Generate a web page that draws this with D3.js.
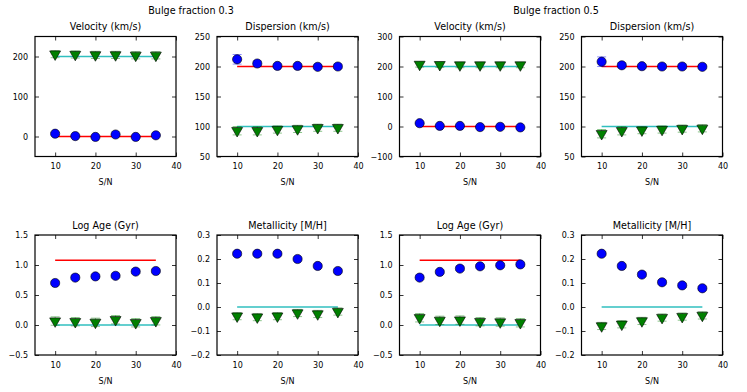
<!DOCTYPE html>
<html><head><meta charset="utf-8">
<script src="https://cdn.jsdelivr.net/npm/d3@7"></script>
<style>body{margin:0;background:#fff}svg{display:block}text{font-family:"DejaVu Sans",sans-serif;fill:#000}</style>
</head><body>
<script>
// ---------- data ----------
const snr = [10, 15, 20, 25, 30, 35];
const xTicks = [10, 20, 30, 40];
const groupTitles = ["Bulge fraction 0.3", "Bulge fraction 0.5"];
const panelTitles = ["Velocity (km/s)", "Dispersion (km/s)", "Velocity (km/s)", "Dispersion (km/s)",
                     "Log Age (Gyr)", "Metallicity [M/H]", "Log Age (Gyr)", "Metallicity [M/H]"];
const yDomains = [[-50, 250], [50, 250], [-100, 300], [50, 250], [-0.5, 1.5], [-0.2, 0.3], [-0.5, 1.5], [-0.2, 0.3]];
const yTicks = [[0, 100, 200], [50, 100, 150, 200, 250], [-100, 0, 100, 200, 300], [50, 100, 150, 200, 250],
                [-0.5, 0.0, 0.5, 1.0, 1.5], [-0.2, -0.1, 0.0, 0.1, 0.2, 0.3], [-0.5, 0.0, 0.5, 1.0, 1.5], [-0.2, -0.1, 0.0, 0.1, 0.2, 0.3]];
const yFormats = [".0f", ".0f", ".0f", ".0f", ".1f", ".1f", ".1f", ".1f"];

// true values (lines): red = bulge component, cyan = disc component (null = not drawn)
const trueRed  = [0, 200, 0, 200, 1.08, null, 1.08, null];
const trueCyan = [200, 100, 200, 100, 0.0, 0.0, 0.0, 0.0];

// recovered values: blue circles (bulge), green triangles (disc)
const velBlue03 = [7, 1, -1, 5, -1, 3];
const velGreen03 = [206, 205, 204, 204, 203, 203];
const dispBlue03 = [212, 205, 201, 201, 199.5, 200];
const dispGreen03 = [93, 93, 95, 96, 98, 98];
const velBlue05 = [11, 2, 2, -2, -1, -3];
const velGreen05 = [207, 206, 205, 205, 205, 205];
const dispBlue05 = [208, 202, 200.5, 200, 200, 199.5];
const dispGreen05 = [88, 93, 94, 95, 96.5, 97];
const ageBlue03 = [0.70, 0.79, 0.81, 0.82, 0.89, 0.90];
const ageGreen03 = [0.066, 0.055, 0.044, 0.088, 0.038, 0.071];
const metBlue03 = [0.222, 0.222, 0.222, 0.200, 0.171, 0.150];
const metGreen03 = [-0.038, -0.042, -0.038, -0.025, -0.029, -0.019];
const ageBlue05 = [0.79, 0.885, 0.94, 0.978, 0.995, 1.01];
const ageGreen05 = [0.121, 0.077, 0.082, 0.055, 0.05, 0.038];
const metBlue05 = [0.222, 0.171, 0.135, 0.103, 0.090, 0.078];
const metGreen05 = [-0.079, -0.072, -0.058, -0.044, -0.040, -0.035];

// small error bars (drawn faintly)
const velBlueErr = [3, 2, 2, 2, 2, 2];
const velGreenErr = [9, 9, 9, 9, 9, 9];
const dispBlueErr = [8, 4, 3, 3, 3, 3];
const dispGreenErr = [7, 7, 6, 6, 6, 6];
const ageBlueErr = [0.03, 0.03, 0.03, 0.03, 0.03, 0.03];
const ageGreenErr = [0.07, 0.07, 0.07, 0.07, 0.07, 0.07];
const metBlueErr = [0.008, 0.008, 0.008, 0.008, 0.008, 0.008];
const metGreenErr = [0.015, 0.015, 0.015, 0.015, 0.015, 0.015];

const blueSeries = [velBlue03, dispBlue03, velBlue05, dispBlue05, ageBlue03, metBlue03, ageBlue05, metBlue05];
const greenSeries = [velGreen03, dispGreen03, velGreen05, dispGreen05, ageGreen03, metGreen03, ageGreen05, metGreen05];
const blueErrs = [velBlueErr, dispBlueErr, velBlueErr, dispBlueErr, ageBlueErr, metBlueErr, ageBlueErr, metBlueErr];
const greenErrs = [velGreenErr, dispGreenErr, velGreenErr, dispGreenErr, ageGreenErr, metGreenErr, ageGreenErr, metGreenErr];

// ---------- layout ----------
const W = 747, H = 392;
const colLeft = [35, 217, 399.5, 581.5];
const rowTop = [36.5, 235];
const pw = 141, ph = 120;
const fs = 9.6, tfs = 8;

const svg = d3.select("body").append("svg").attr("width", W).attr("height", H);

svg.append("text").attr("x", 191).attr("y", 13.5).attr("text-anchor", "middle").attr("font-size", fs).text(groupTitles[0]);
svg.append("text").attr("x", 556).attr("y", 13.5).attr("text-anchor", "middle").attr("font-size", fs).text(groupTitles[1]);

const minus = s => s.replace(/-/g, "\u2212");

for (let i = 0; i < 8; i++) {
  const r = Math.floor(i / 4), c = i % 4;
  const g = svg.append("g").attr("transform", `translate(${colLeft[c]},${rowTop[r]})`);
  const x = d3.scaleLinear().domain([5, 40]).range([0, pw]);
  const y = d3.scaleLinear().domain(yDomains[i]).range([ph, 0]);

  // title
  g.append("text").attr("x", pw / 2).attr("y", -6.5).attr("text-anchor", "middle").attr("font-size", fs).text(panelTitles[i]);
  // x label
  g.append("text").attr("x", pw / 2).attr("y", ph + 28.5).attr("text-anchor", "middle").attr("font-size", tfs).text("S/N");

  // axes (ticks inward, all sides)
  const fmt = d3.format(yFormats[i]);
  const ax = [
    d3.axisBottom(x).tickValues(xTicks).tickSize(-4).tickPadding(7).tickFormat(d3.format("d")),
    d3.axisTop(x).tickValues(xTicks).tickSize(-4).tickFormat(""),
    d3.axisLeft(y).tickValues(yTicks[i]).tickSize(-4).tickPadding(7).tickFormat(d => minus(fmt(d))),
    d3.axisRight(y).tickValues(yTicks[i]).tickSize(-4).tickFormat("")
  ];
  const tr = [`translate(0,${ph})`, "translate(0,0)", "translate(0,0)", `translate(${pw},0)`];
  ax.forEach((a, k) => {
    const ag = g.append("g").attr("transform", tr[k]).call(a);
    ag.select(".domain").remove();
    ag.selectAll("line").attr("stroke", "#000").attr("stroke-width", 0.8);
    ag.selectAll("text").attr("font-size", tfs).attr("font-family", "DejaVu Sans").attr("fill", "#000");
  });

  // true-value lines
  const lineGen = d3.line().x(d => x(d[0])).y(d => y(d[1]));
  if (trueRed[i] !== null) {
    g.append("path").attr("d", lineGen([[snr[0], trueRed[i]], [snr[snr.length - 1], trueRed[i]]]))
      .attr("stroke", "#ff0000").attr("stroke-width", 1.5).attr("fill", "none");
  }
  if (trueCyan[i] !== null) {
    g.append("path").attr("d", lineGen([[snr[0], trueCyan[i]], [snr[snr.length - 1], trueCyan[i]]]))
      .attr("stroke", "#30bfbf").attr("stroke-width", 1.5).attr("fill", "none");
  }

  // error bars
  const drawErr = (vals, errs, col) => {
    const eg = g.append("g").attr("stroke", col).attr("stroke-opacity", 0.45).attr("stroke-width", 1);
    snr.forEach((s, j) => {
      const cx = x(s), y0 = y(vals[j] - errs[j]), y1 = y(vals[j] + errs[j]);
      eg.append("line").attr("x1", cx).attr("x2", cx).attr("y1", y0).attr("y2", y1);
      eg.append("line").attr("x1", cx - 4.5).attr("x2", cx + 4.5).attr("y1", y0).attr("y2", y0);
      eg.append("line").attr("x1", cx - 4.5).attr("x2", cx + 4.5).attr("y1", y1).attr("y2", y1);
    });
  };
  drawErr(blueSeries[i], blueErrs[i], "#0000ff");
  drawErr(greenSeries[i], greenErrs[i], "#008000");

  // markers
  g.selectAll("circle.b").data(snr.map((s, j) => [s, blueSeries[i][j]])).enter().append("circle")
    .attr("cx", d => x(d[0])).attr("cy", d => y(d[1])).attr("r", 4.6)
    .attr("fill", "#0000ff").attr("stroke", "#000").attr("stroke-width", 0.6);
  const tri = d3.symbol().type(d3.symbolTriangle).size(52);
  g.selectAll("path.t").data(snr.map((s, j) => [s, greenSeries[i][j]])).enter().append("path")
    .attr("d", tri).attr("transform", d => `translate(${x(d[0])},${y(d[1])}) rotate(180)`)
    .attr("fill", "#008000").attr("stroke", "#000").attr("stroke-width", 0.6);

  // frame
  g.append("rect").attr("x", 0).attr("y", 0).attr("width", pw).attr("height", ph)
    .attr("fill", "none").attr("stroke", "#000").attr("stroke-width", 1.2);
}
</script>
</body></html>
